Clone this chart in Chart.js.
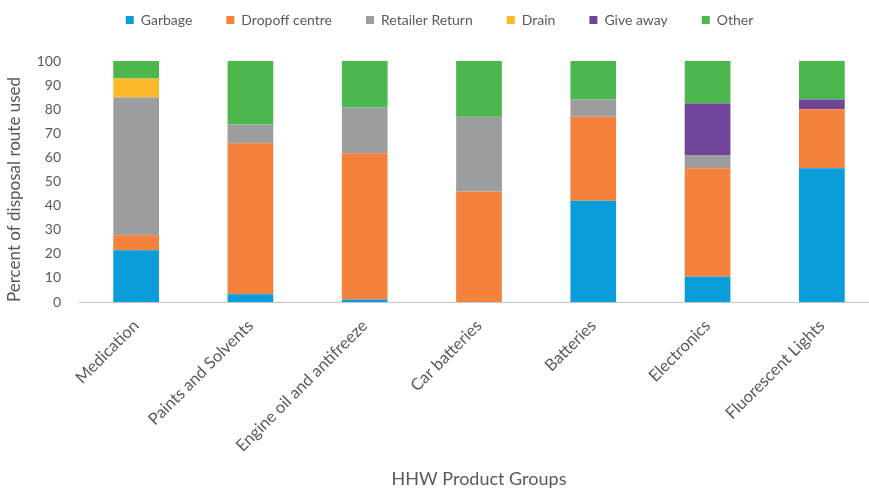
<!DOCTYPE html>
<html>
<head>
<meta charset="utf-8">
<script src="https://cdn.jsdelivr.net/npm/chart.js@4"></script>
<style>
  html, body { margin: 0; padding: 0; background: #fff; overflow: hidden; }
  #wrap { width: 881px; height: 490px; }
</style>
</head>
<body>
<div id="wrap"><canvas id="chart"></canvas></div>
<script>
const categories = ['Medication', 'Paints and Solvents', 'Engine oil and antifreeze', 'Car batteries', 'Batteries', 'Electronics', 'Fluorescent Lights'];
const garbage = [21.5, 3.2, 1.0, 0, 42, 10.5, 55.5];
const dropoff = [6.2, 62.7, 60.7, 45.9, 34.9, 45, 24.5];
const retailer = [57.2, 7.8, 19, 31, 7.1, 5.5, 0];
const drain = [7.8, 0, 0, 0, 0, 0, 0];
const giveAway = [0, 0, 0, 0, 0, 21.4, 4];
const other = [7.3, 26.3, 19.3, 23.1, 16, 17.6, 16];
const yTicks = [0, 10, 20, 30, 40, 50, 60, 70, 80, 90, 100];

const textColor = '#595959';
const fontFamily = 'Lato, "Liberation Sans", sans-serif';

function series(label, data, color) {
  return { label: label, data: data, backgroundColor: color, borderWidth: 0, barPercentage: 0.4, categoryPercentage: 1 };
}

// legend sits in a fixed-height band above the plot
// (the wide item padding also pushes the row down, so the band starts above the canvas)
const legendBand = {
  id: 'legendBand',
  beforeInit(chart) {
    const fit = chart.legend.fit;
    chart.legend.fit = function() {
      fit.bind(chart.legend)();
      this.height = 82;
    };
  }
};

new Chart(document.getElementById('chart'), {
  type: 'bar',
  data: {
    labels: categories,
    datasets: [
      series('Garbage', garbage, '#0A9DD9'),
      series('Dropoff centre', dropoff, '#F4823C'),
      series('Retailer Return', retailer, '#9C9D9F'),
      series('Drain', drain, '#FDB827'),
      series('Give away', giveAway, '#71449B'),
      series('Other', other, '#4BB74C')
    ]
  },
  options: {
    responsive: true,
    maintainAspectRatio: false,
    animation: false,
    layout: { padding: { left: 0, right: 2, top: -21, bottom: 0 } },
    plugins: {
      tooltip: { enabled: false },
      legend: {
        position: 'top',
        labels: {
          boxWidth: 8, boxHeight: 8, padding: 34,
          color: textColor,
          font: { family: fontFamily, size: 14 }
        }
      }
    },
    scales: {
      x: {
        stacked: true,
        grid: { display: false, drawTicks: false },
        border: { display: true, color: '#c8c8c8', dash: [4, 3], width: 1 },
        ticks: {
          color: textColor, font: { family: fontFamily, size: 16.5 },
          minRotation: 45, maxRotation: 45, padding: 14, autoSkip: false
        },
        title: {
          display: true, text: 'HHW Product Groups', color: textColor,
          font: { family: fontFamily, size: 18 }, padding: { top: 4, bottom: 0 }
        },
        afterFit(scale) { scale.height = 188; }
      },
      y: {
        stacked: true,
        min: 0, max: 100,
        grid: { display: false, drawTicks: false },
        border: { display: false },
        afterBuildTicks(scale) { scale.ticks = yTicks.map(v => ({ value: v })); },
        ticks: { color: textColor, font: { family: fontFamily, size: 14 }, padding: 18 },
        title: {
          display: true, text: 'Percent of disposal route used', color: textColor,
          align: 'start',
          font: { family: fontFamily, size: 17 }, padding: { top: 4, bottom: 0 }
        },
        afterFit(scale) { scale.width = 79; }
      }
    }
  },
  plugins: [legendBand]
});
</script>
</body>
</html>
